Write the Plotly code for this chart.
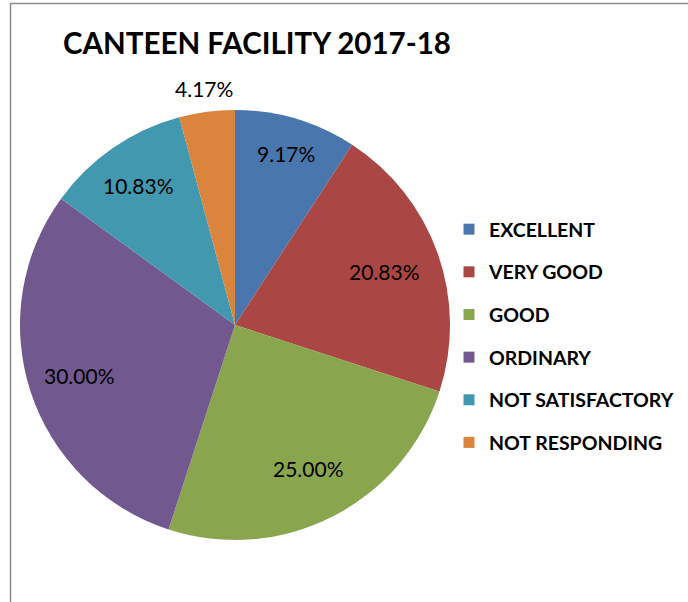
import math
import plotly.graph_objects as go

categories = ["EXCELLENT", "VERY GOOD", "GOOD", "ORDINARY", "NOT SATISFACTORY", "NOT RESPONDING"]
percent_values = [9.17, 20.83, 25.00, 30.00, 10.83, 4.17]
percent_labels = ["9.17%", "20.83%", "25.00%", "30.00%", "10.83%", "4.17%"]
slice_colors = ["#4A76AE", "#AA4643", "#89A54E", "#71588F", "#4198AF", "#DB843D"]
title_text = "CANTEEN FACILITY 2017-18"

W, H = 688, 602
cx, cy, R = 235, 325, 215
label_radius = [0.83, 0.74, 0.75, 0.76, 0.79, 1.11]  # fraction of radius for data labels

fig = go.Figure()

fig.add_trace(go.Pie(
    labels=categories,
    values=percent_values,
    text=percent_labels,
    textinfo="none",
    marker=dict(colors=slice_colors, line=dict(width=0)),
    sort=False,
    direction="clockwise",
    rotation=0,
    showlegend=False,
    hoverinfo="label+text",
    domain=dict(x=[(cx - R) / W, (cx + R) / W], y=[(H - cy - R) / H, (H - cy + R) / H]),
))

for name, col in zip(categories, slice_colors):
    fig.add_trace(go.Scatter(
        x=[None], y=[None], mode="markers", name=name, legendgroup=name,
        marker=dict(symbol="square", size=11, color=col),
        hoverinfo="skip",
    ))

# data labels placed at each slice's mid-angle (derived from the values)
total = sum(percent_values)
annotations = []
cum = 0.0
for v, lab, rf in zip(percent_values, percent_labels, label_radius):
    mid = (cum + v / 2) / total * 2 * math.pi
    cum += v
    px = cx + rf * R * math.sin(mid)
    py = cy - rf * R * math.cos(mid)
    annotations.append(dict(
        text=lab, x=px / W, y=1 - py / H, xref="paper", yref="paper",
        xanchor="center", yanchor="middle", showarrow=False,
        font=dict(family="Lato", size=21, color="black"),
    ))

fig.update_layout(
    width=W, height=H,
    margin=dict(l=0, r=0, t=0, b=0),
    paper_bgcolor="white", plot_bgcolor="white",
    xaxis=dict(visible=False, domain=[0.9, 0.91]),
    yaxis=dict(visible=False, domain=[0.0, 0.01]),
    title=dict(text="<b>" + title_text + "</b>", x=257 / W, xanchor="center", xref="paper",
               y=1 - 44 / H, yanchor="middle", yref="container",
               font=dict(family="Lato", size=29.5, color="black")),
    legend=dict(x=449 / W, xanchor="left", y=1 - 210 / H, yanchor="top",
                font=dict(family="Lato", size=19.5, color="black", weight="bold"),
                tracegroupgap=14.3, bgcolor="rgba(0,0,0,0)"),
    showlegend=True,
    annotations=annotations,
    shapes=[
        dict(type="rect", xref="paper", yref="paper", x0=10.5 / W, x1=1.05, y0=-0.05, y1=1 - 3.5 / H,
             line=dict(color="#8c8c8c", width=1.5), fillcolor="rgba(0,0,0,0)", layer="above"),
    ],
)

fig.write_html("out.html", config={"displayModeBar": False},
               post_script="document.body.style.margin='0';")
